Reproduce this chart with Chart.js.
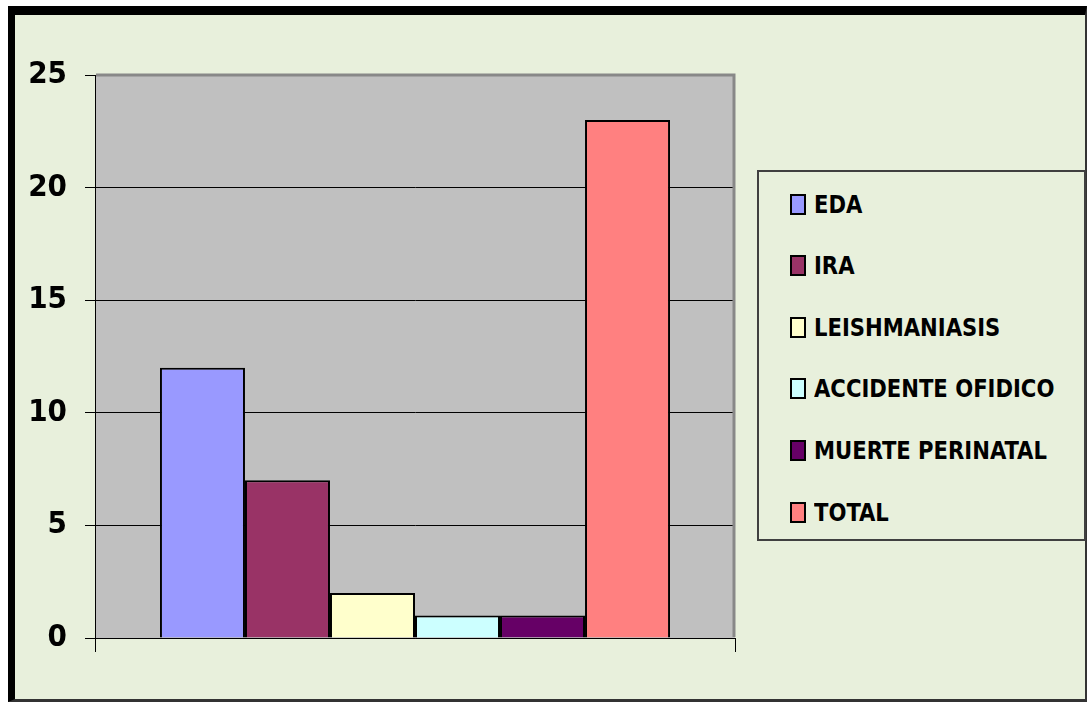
<!DOCTYPE html>
<html>
<head>
<meta charset="utf-8">
<script src="https://cdn.jsdelivr.net/npm/chart.js@4"></script>
<style>
  html, body { margin: 0; padding: 0; background: #fff; }
  #frame {
    position: absolute; left: 8px; top: 6px; width: 1079px; height: 696px;
    box-sizing: border-box; background: #e8f0dc;
    border-top: 9px solid #000; border-left: 7px solid #000;
    border-right: 2px solid #333; border-bottom: 3px solid #333;
  }
  #chart { position: absolute; left: 0; top: 0; }
  #legend {
    position: absolute; left: 757px; top: 170px; width: 329px; height: 371px;
    box-sizing: border-box; border: 2px solid #404040; background: #e8f0dc;
  }
  .item {
    position: absolute; left: 31px; height: 24px; display: flex; align-items: center;
    font-family: 'Liberation Sans Narrow', 'DejaVu Sans Condensed', sans-serif;
    font-weight: bold; font-size: 25px; color: #000; white-space: nowrap;
  }
  .item span { display: inline-block; transform: scaleX(0.94); transform-origin: left center; }
  .box {
    width: 16px; height: 21px; box-sizing: border-box; border: 2px solid #000;
    margin-right: 8px; flex: none;
  }
</style>
</head>
<body>
<div id="frame"></div>
<canvas id="chart" width="1089" height="707"></canvas>
<div id="legend"></div>
<script>
// data
const categories = [''];
const seriesNames = ['EDA', 'IRA', 'LEISHMANIASIS', 'ACCIDENTE OFIDICO', 'MUERTE PERINATAL', 'TOTAL'];
const seriesValues = [12, 7, 2, 1, 1, 23];
const seriesColors = ['#9999ff', '#993366', '#ffffcc', '#ccffff', '#660066', '#ff8080'];
const yTicks = [0, 5, 10, 15, 20, 25];

const FONT = "'Liberation Sans Narrow', 'DejaVu Sans Condensed', sans-serif";

// gray plot area with darker top/right edge
const plotArea = {
  id: 'plotArea',
  beforeDraw(chart) {
    const { ctx, chartArea: a } = chart;
    ctx.save();
    ctx.fillStyle = '#c0c0c0';
    ctx.fillRect(a.left, a.top, a.right - a.left, a.bottom - a.top);
    ctx.restore();
  },
  afterDatasetsDraw(chart) {
    const { ctx, chartArea: a } = chart;
    ctx.save();
    ctx.strokeStyle = '#888888';
    ctx.lineWidth = 3;
    ctx.beginPath();
    ctx.moveTo(a.left + 1, a.top);
    ctx.lineTo(a.right - 1, a.top);
    ctx.lineTo(a.right - 1, a.bottom - 1);
    ctx.stroke();
    ctx.restore();
  }
};

const datasets = seriesNames.map((name, i) => ({
  label: name,
  data: [seriesValues[i]],
  backgroundColor: seriesColors[i],
  borderColor: '#000',
  borderWidth: 2,
  barPercentage: 1,
  categoryPercentage: 0.797
}));

const ctx = document.getElementById('chart').getContext('2d');
const chart = new Chart(ctx, {
  type: 'bar',
  data: { labels: categories, datasets: datasets },
  options: {
    responsive: false,
    animation: false,
    devicePixelRatio: 1,
    layout: { padding: { left: 0, right: 354, top: 75, bottom: 0 } },
    plugins: { legend: { display: false }, tooltip: { enabled: false } },
    scales: {
      x: {
        offset: true,
        grid: { drawOnChartArea: false, color: '#000', tickLength: 14, lineWidth: 1 },
        border: { display: true, color: '#000', width: 1 },
        ticks: { display: false },
        afterFit(scale) { scale.height = 69; }
      },
      y: {
        min: 0,
        max: 25,
        afterBuildTicks(scale) { scale.ticks = yTicks.map(v => ({ value: v })); },
        ticks: {
          color: '#000',
          padding: 18,
          font: { family: FONT, size: 31, weight: 'bold' }
        },
        grid: { color: '#000', lineWidth: 1, tickLength: 10 },
        border: { display: true, color: '#000', width: 1 },
        afterFit(scale) { scale.width = 95; }
      }
    }
  },
  plugins: [plotArea]
});

// legend built from the same arrays
const legend = document.getElementById('legend');
seriesNames.forEach((name, i) => {
  const item = document.createElement('div');
  item.className = 'item';
  item.style.top = (20 + i * 61.6) + 'px';
  const box = document.createElement('div');
  box.className = 'box';
  box.style.background = seriesColors[i];
  const text = document.createElement('span');
  text.textContent = name;
  item.appendChild(box);
  item.appendChild(text);
  legend.appendChild(item);
});
</script>
</body>
</html>
